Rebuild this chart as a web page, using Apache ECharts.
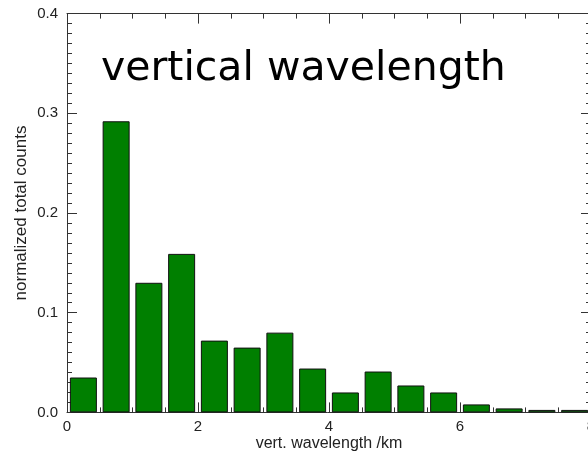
<!DOCTYPE html>
<html>
<head>
<meta charset="utf-8">
<script src="https://cdn.jsdelivr.net/npm/echarts@6/dist/echarts.min.js"></script>
<style>
  html, body { margin: 0; padding: 0; background: #fff; }
  #chart { width: 588px; height: 455px; }
</style>
</head>
<body>
<div id="chart"></div>
<script>
// Histogram bins (km): centre of each 0.5 km bin
const binCenters = [0.25, 0.75, 1.25, 1.75, 2.25, 2.75, 3.25, 3.75,
                    4.25, 4.75, 5.25, 5.75, 6.25, 6.75, 7.25, 7.75];
// Normalized total counts per bin
const counts = [0.035, 0.292, 0.130, 0.159, 0.072, 0.065, 0.080, 0.044,
                0.020, 0.041, 0.027, 0.020, 0.008, 0.004, 0.0025, 0.0025];
const xTicks = [0, 2, 4, 6, 8];
const yTicks = [0.0, 0.1, 0.2, 0.3, 0.4];

const axisColor = '#333';
const tickFont = { fontFamily: 'Liberation Sans', fontSize: 15, color: '#222' };

function frameAxis(extra) {
  return Object.assign({
    axisLine: { show: true, onZero: false, lineStyle: { color: axisColor, width: 1 } },
    axisTick: { show: true, inside: true, length: 10, lineStyle: { color: axisColor } },
    minorTick: { show: true, length: 5, lineStyle: { color: axisColor } },
    splitLine: { show: false },
    minorSplitLine: { show: false }
  }, extra);
}

const chart = echarts.init(document.getElementById('chart'), null, { renderer: 'canvas' });
chart.setOption({
  animation: false,
  title: {
    text: 'vertical wavelength',
    left: 96, top: 44,
    textStyle: { fontFamily: 'DejaVu Sans', fontWeight: 'normal', fontSize: 41, color: '#000' }
  },
  grid: { left: 67, top: 13.6, width: 524, height: 398.8, outerBoundsMode: 'none', containLabel: false },
  xAxis: [
    frameAxis({
      type: 'value', position: 'bottom', min: 0, max: 8, interval: 2,
      minorTick: { show: true, splitNumber: 4, length: 5, lineStyle: { color: axisColor } },
      axisLabel: Object.assign({ margin: 7, formatter: v => xTicks.includes(v) ? String(v) : '' }, tickFont),
      name: 'vert. wavelength /km', nameLocation: 'middle', nameGap: 23, nameMoveOverlap: false,
      nameTextStyle: { fontFamily: 'Liberation Sans', fontSize: 16, color: '#222' }
    }),
    frameAxis({
      type: 'value', position: 'top', min: 0, max: 8, interval: 2,
      minorTick: { show: true, splitNumber: 4, length: 5, lineStyle: { color: axisColor } },
      axisLabel: { show: false }
    })
  ],
  yAxis: [
    frameAxis({
      type: 'value', position: 'left', min: 0, max: 0.4, interval: 0.1,
      minorTick: { show: true, splitNumber: 10, length: 5, lineStyle: { color: axisColor } },
      axisLabel: Object.assign({ margin: 9, formatter: v => v.toFixed(1) }, tickFont),
      name: 'normalized total counts', nameLocation: 'middle', nameGap: 37, nameMoveOverlap: false,
      nameTextStyle: { fontFamily: 'Liberation Sans', fontSize: 17, color: '#222' }
    }),
    frameAxis({
      type: 'value', position: 'right', min: 0, max: 0.4, interval: 0.1,
      minorTick: { show: true, splitNumber: 10, length: 5, lineStyle: { color: axisColor } },
      axisLabel: { show: false }
    })
  ],
  series: [{
    type: 'bar',
    xAxisIndex: 0, yAxisIndex: 0,
    barWidth: 27,
    data: binCenters.map((c, i) => [c, counts[i]]),
    itemStyle: { color: '#007f00', borderColor: '#111', borderWidth: 1 }
  }]
});
</script>
</body>
</html>
